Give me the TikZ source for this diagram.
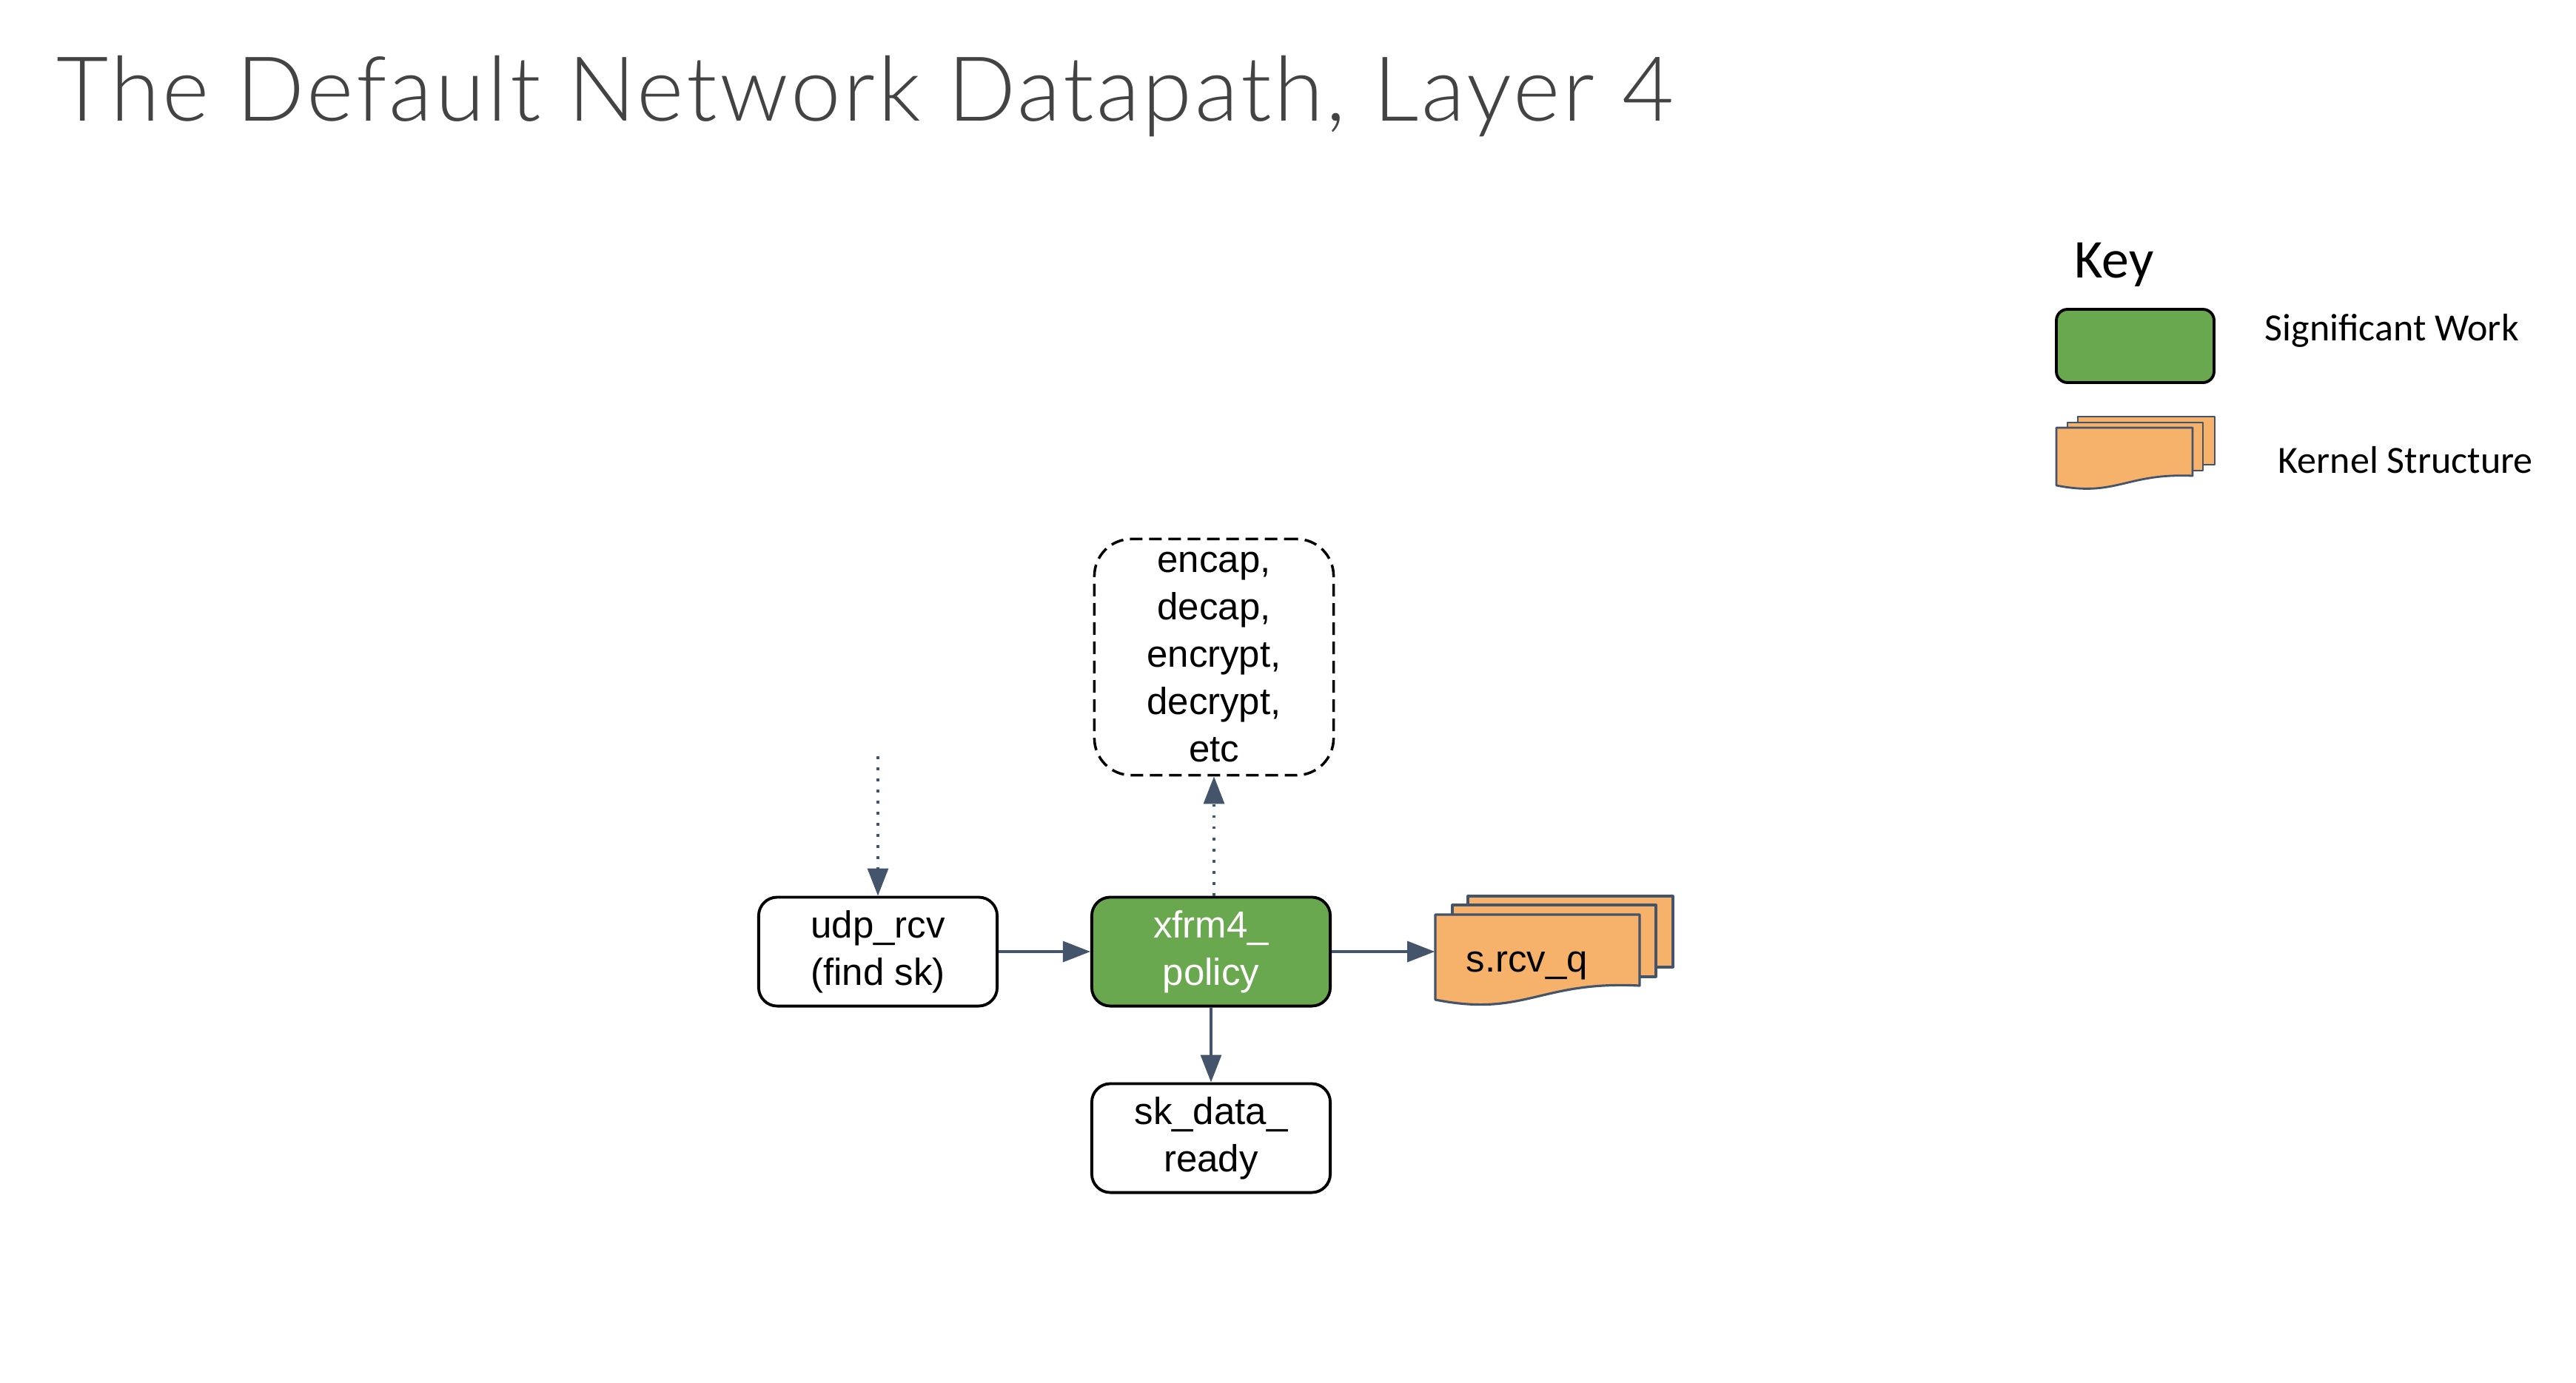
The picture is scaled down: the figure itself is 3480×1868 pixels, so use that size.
\documentclass[tikz,border=0pt]{standalone}
\usepackage{fontspec}
\setmainfont{Liberation Sans}
\newfontfamily\titlefont[LetterSpace=3]{Lato Light}
\newfontfamily\keyfont{Carlito}
\usetikzlibrary{arrows.meta,calc}

\definecolor{workgreen}{HTML}{6AA84F}
\definecolor{structorange}{HTML}{F6B26B}
\definecolor{slate}{HTML}{44546A}
\definecolor{titlegray}{HTML}{434343}

\tikzset{
  fnbox/.style={draw=black, line width=1.1pt, rounded corners=0.25cm,
    minimum width=3.22cm, minimum height=1.47cm, inner sep=0pt,
    align=center, font=\fontsize{14.5pt}{18.2pt}\selectfont},
  workbox/.style={fnbox, fill=workgreen, text=white},
  optbox/.style={draw=black, line width=1pt, rounded corners=0.5cm,
    dash pattern=on 0.17cm off 0.09cm,
    minimum width=3.23cm, minimum height=3.19cm, inner sep=0pt,
    align=center, font=\fontsize{14.5pt}{18.2pt}\selectfont},
  flow/.style={draw=slate, line width=0.9pt,
    -{Triangle[length=0.37cm,width=0.28cm]}},
  dotflow/.style={flow, dash pattern=on 0.035cm off 0.115cm},
  sheet/.style={draw=slate, line width=0.9pt, fill=structorange, line join=round},
  keytext/.style={anchor=base west, inner sep=0pt, font=\keyfont\fontsize{14.8pt}{18pt}\selectfont}
}

\begin{document}
\begin{tikzpicture}[x=0.01cm,y=-0.01cm]
  \useasboundingbox (0,0) rectangle (3480,1868);
  \fill[white] (0,0) rectangle (3480,1868);

  % heading
  \node[anchor=base west, inner sep=0pt, text=titlegray,
        font=\titlefont\fontsize{34.5pt}{40pt}\selectfont] (title) at (76,163)
        {The Default Network Datapath, Layer 4};

  % legend
  \node[anchor=base west, inner sep=0pt, font=\keyfont\fontsize{21pt}{25pt}\selectfont] (keyhead) at (2802,375) {Key};
  \draw[fill=workgreen, draw=black, line width=1.1pt, rounded corners=0.15cm]
    (2778,418) rectangle (2991,517);
  \node[keytext] (keywork) at (3059,460) {Significant Work};
  \draw[sheet, line width=0.8pt] (2807,563) rectangle (2992,628);
  \draw[sheet, line width=0.8pt] (2793,571) rectangle (2976,636);
  \draw[sheet, line width=0.8pt] (2778,578) -- (2962,578) -- (2962,643)
    .. controls (2872,639) and (2859,672) .. (2778,656) -- cycle;
  \node[keytext] (keystruct) at (3077,639) {Kernel Structure};

  % processing nodes
  \node[fnbox] (udp) at (1186,1286) {udp\_rcv\\(find sk)};
  \node[workbox] (xfrm) at (1636,1286) {xfrm4\_\\policy};
  \node[fnbox] (skdata) at (1636,1538) {sk\_data\_\\ready};
  \node[optbox] (ops) at (1640,888) {encap,\\decap,\\encrypt,\\decrypt,\\etc};

  % receive queue: stacked sheets
  \draw[sheet] (1983,1211) rectangle (2260,1307);
  \draw[sheet] (1962,1223) rectangle (2237,1320);
  \draw[sheet] (1939,1236) -- (2215,1236) -- (2215,1332)
    .. controls (2080,1325) and (2060,1375) .. (1939,1351) -- cycle;
  \node[minimum width=2.76cm, minimum height=1.16cm, inner sep=0pt] (rcvq) at (2077,1294) {};
  \node[anchor=base west, inner sep=0pt, font=\fontsize{14.5pt}{18.2pt}\selectfont] (rcvqlabel) at (1980,1313) {s.rcv\_q};

  % connectors
  \coordinate (udpin) at (1186,1022);
  \draw[dotflow] (udpin) -- (udp.north);
  \draw[flow] (udp.east) -- (xfrm.west);
  \draw[flow] (xfrm.east) -- (xfrm.east -| rcvq.west);
  \draw[flow] (xfrm.south) -- (skdata.north);
  \draw[dotflow] (ops.south |- xfrm.north) -- (ops.south);
\end{tikzpicture}
\end{document}
